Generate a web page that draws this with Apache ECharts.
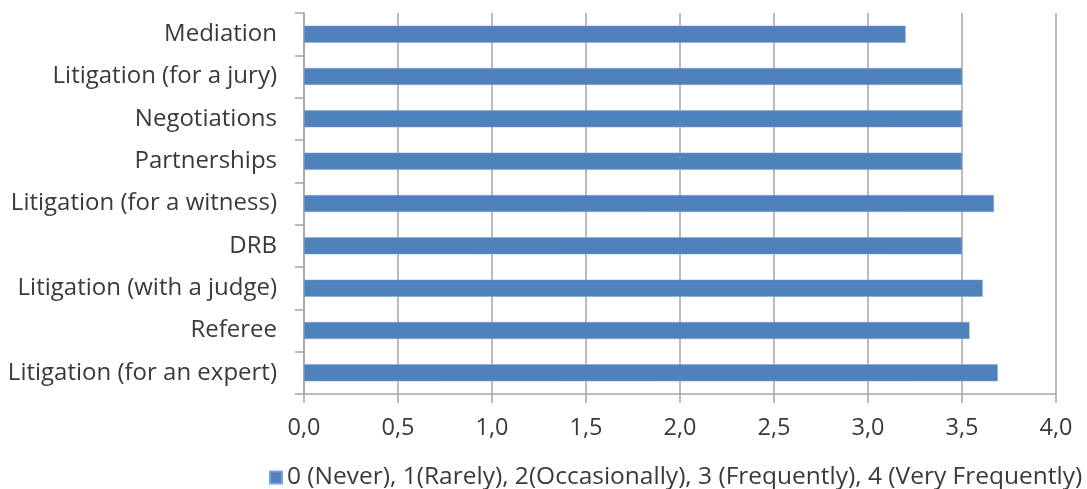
<!DOCTYPE html>
<html>
<head>
<meta charset="utf-8">
<script src="https://cdn.jsdelivr.net/npm/echarts@6/dist/echarts.min.js"></script>
<style>
  html, body { margin: 0; padding: 0; background: #ffffff; }
  #chart { width: 1087px; height: 489px; }
</style>
</head>
<body>
<div id="chart"></div>
<script>
// Categories listed bottom to top (ECharts category y axis starts at the bottom)
const categories = [
  'Litigation (for an expert)',
  'Referee',
  'Litigation (with a judge)',
  'DRB',
  'Litigation (for a witness)',
  'Partnerships',
  'Negotiations',
  'Litigation (for a jury)',
  'Mediation'
];
const meanScores = [3.69, 3.54, 3.61, 3.5, 3.67, 3.5, 3.5, 3.5, 3.2];
const seriesName = '0 (Never), 1(Rarely), 2(Occasionally), 3 (Frequently), 4 (Very Frequently)';

const textColor = '#3a3a3a';
const lineColor = '#a6a6a6';
const fontFamily = '"Open Sans", Calibri, Carlito, sans-serif';

const chart = echarts.init(document.getElementById('chart'), null, { renderer: 'canvas' });
chart.setOption({
  animation: false,
  textStyle: { fontFamily: fontFamily },
  grid: { left: 304, right: 31, top: 13, bottom: 95, containLabel: false },
  legend: {
    top: 460,
    left: 264,
    itemWidth: 12,
    itemHeight: 12,
    itemGap: 9,
    textStyle: { fontSize: 24.5, color: textColor, fontFamily: fontFamily },
    data: [{ name: seriesName, icon: 'rect' }]
  },
  xAxis: {
    type: 'value',
    min: 0,
    max: 4,
    interval: 0.5,
    axisLine: { show: true, lineStyle: { color: lineColor, width: 1.5 } },
    axisTick: { show: true, length: 9, lineStyle: { color: lineColor, width: 1.5 } },
    axisLabel: {
      fontSize: 23.5,
      color: textColor,
      margin: 22,
      formatter: v => v.toFixed(1).replace('.', ',')
    },
    splitLine: { show: true, lineStyle: { color: lineColor, width: 1.5 } }
  },
  yAxis: {
    type: 'category',
    data: categories,
    axisLine: { show: true, lineStyle: { color: lineColor, width: 1.5 } },
    axisTick: { show: true, length: 9, lineStyle: { color: lineColor, width: 1.5 } },
    axisLabel: { fontSize: 24, color: textColor, margin: 27 },
    splitLine: { show: false }
  },
  series: [{
    name: seriesName,
    type: 'bar',
    data: meanScores,
    barCategoryGap: '60%',
    itemStyle: { color: '#4f81bd', borderColor: '#7fa2d3', borderWidth: 0.5 }
  }]
});
</script>
</body>
</html>
